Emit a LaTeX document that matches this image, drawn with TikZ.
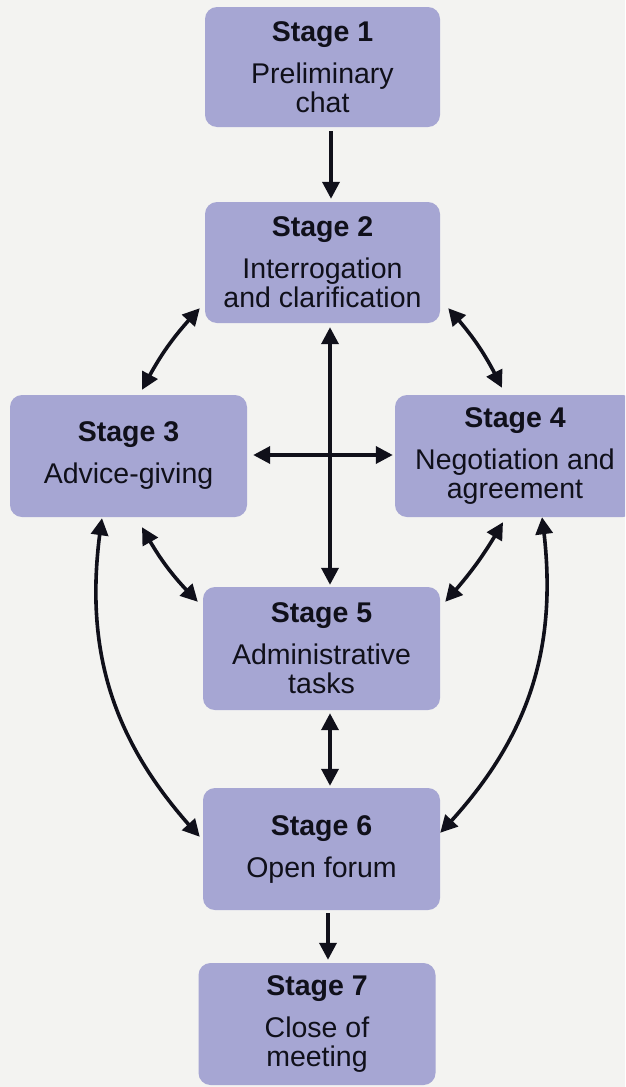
\documentclass[tikz,border=0pt]{standalone}
\usepackage{fontspec}
\setmainfont{Liberation Sans}
\usetikzlibrary{arrows.meta,calc,bending}
\definecolor{bgcol}{RGB}{243,243,241}
\definecolor{boxcol}{RGB}{166,166,211}
\definecolor{inkcol}{RGB}{16,16,26}
\begin{document}
\begin{tikzpicture}[x=1pt,y=1pt,
  >={Triangle[length=17pt,width=17pt]},
  stagebox/.style={rectangle, rounded corners=12pt, fill=boxcol, text=inkcol,
    align=center, inner sep=0pt, minimum width=237pt, minimum height=122pt,
    font=\fontsize{28.5}{29}\selectfont},
  link/.style={draw=inkcol, line width=3.6pt}]
  % page area
  \useasboundingbox (0,0) rectangle (625,-1087);
  \clip (0,0) rectangle (625,-1087);
  \fill[bgcol] (0,0) rectangle (625,-1087);

  % stages
  \node[stagebox, minimum width=235pt, minimum height=120pt] (s1) at (322.5,-67)
    {\textbf{Stage 1}\\[13pt]Preliminary\\chat};
  \node[stagebox, minimum width=235pt, minimum height=121pt] (s2) at (322.5,-262.5)
    {\textbf{Stage 2}\\[13pt]Interrogation\\and clarification};
  \node[stagebox] (s3) at (128.5,-456)
    {\textbf{Stage 3}\\[13pt]Advice-giving};
  \node[stagebox, minimum width=240pt] (s4) at (515,-456)
    {\textbf{Stage 4}\\[13pt]Negotiation and\\agreement};
  \node[stagebox, minimum height=123pt] (s5) at (321.5,-648.5)
    {\textbf{Stage 5}\\[13pt]Administrative\\tasks};
  \node[stagebox] (s6) at (321.5,-849)
    {\textbf{Stage 6}\\[13pt]Open forum};
  \node[stagebox] (s7) at (317,-1024)
    {\textbf{Stage 7}\\[13pt]Close of\\meeting};

  % one-way links
  \draw[link,->] ($(s1.south)+(8.5,-4)$) -- ($(s2.north)+(8.5,3)$);
  \draw[link,->] ($(s6.south)+(6.5,-3)$) -- ($(s7.north)+(11,3)$);

  % two-way links
  \draw[link,<->] ($(s2.south west)+(-5,15)$) to[bend right=8] ($(s3.north)+(13.5,5)$);
  \draw[link,<->] ($(s2.south east)+(8,15)$) to[bend left=8] ($(s4.north)+(-13,7)$);
  \draw[link,<->] ($(s2.south)+(7.5,-4)$) -- ($(s5.north)+(8.5,2)$);
  \draw[link,<->] ($(s3.east)+(6,1)$) -- ($(s4.west)+(-2,1)$);
  \draw[link,<->] ($(s3.south)+(13.5,-10)$) to[bend right=8] ($(s5.north west)+(-5,-15)$);
  \draw[link,<->] ($(s4.south)+(-12,-5)$) to[bend left=6] ($(s5.north east)+(5,-15)$);
  \draw[link,<->] ($(s3.south)+(-26.5,-1)$) to[bend right=26] ($(s6.north west)+(-3,-49)$);
  \draw[link,<->] ($(s4.south)+(27,0)$) to[bend left=26] ($(s6.north east)+(0,-45)$);
  \draw[link,<->] ($(s5.south)+(8.5,-3)$) -- ($(s6.north)+(8.5,2)$);
\end{tikzpicture}
\end{document}
